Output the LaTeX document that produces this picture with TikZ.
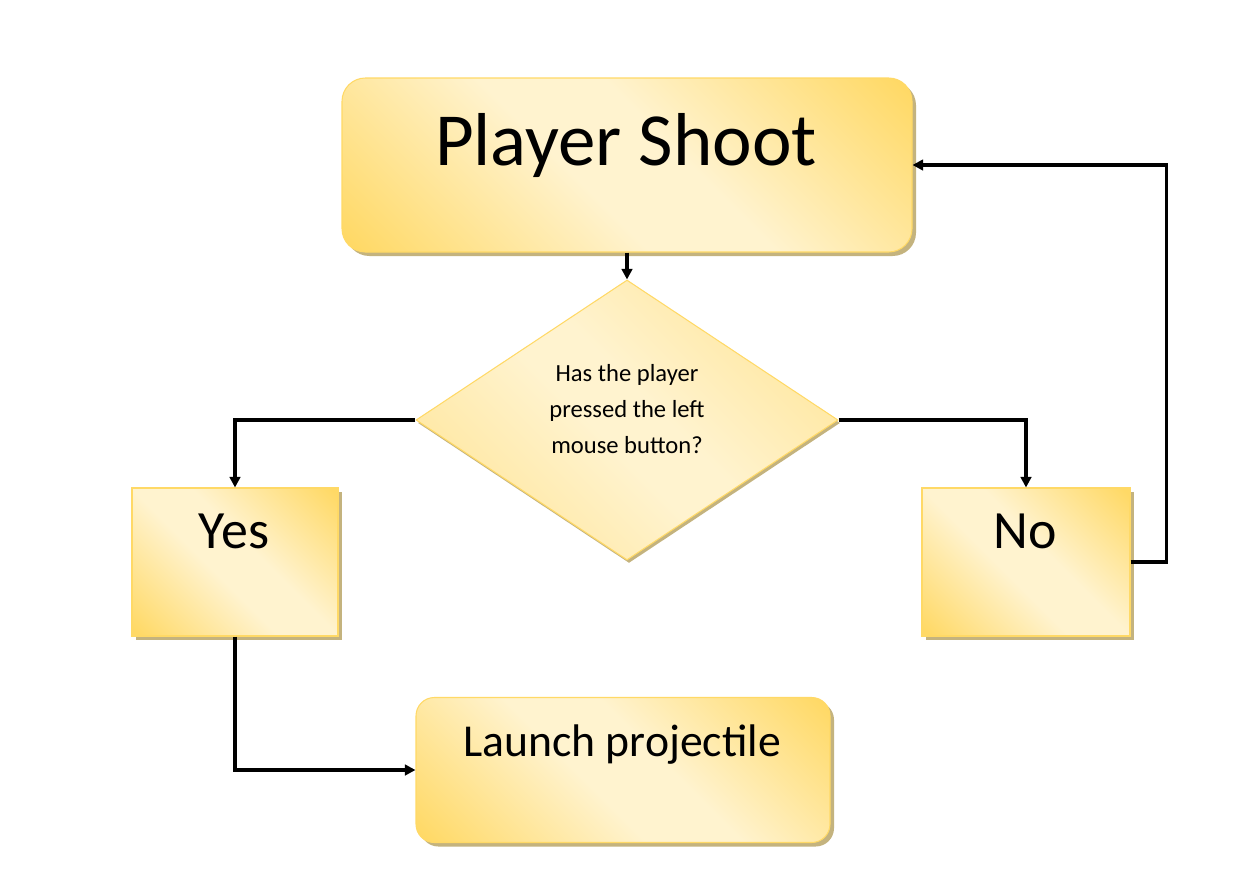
\documentclass[tikz,border=0pt]{standalone}
\usepackage{fontspec}
\setmainfont{Carlito}
\usetikzlibrary{shapes.geometric,shadows,arrows.meta}
\definecolor{goldc}{HTML}{FFD966}
\definecolor{lightc}{HTML}{FFF3CF}
\definecolor{edgec}{HTML}{FFD966}
\definecolor{shadc}{HTML}{C4B37E}
\colorlet{midgold}{goldc!55!lightc}
\pgfdeclarehorizontalshading{goldband}{100bp}{color(0bp)=(goldc); color(16bp)=(goldc); color(44bp)=(lightc); color(56bp)=(lightc); color(84bp)=(goldc); color(100bp)=(goldc)}
\pgfdeclarehorizontalshading{softband}{100bp}{color(0bp)=(midgold); color(20bp)=(midgold); color(46bp)=(lightc); color(54bp)=(lightc); color(80bp)=(midgold); color(100bp)=(midgold)}
\tikzset{
  box/.style={rectangle, draw=edgec, line width=0.9pt, shading=goldband, shading angle=45,
    drop shadow={shadow xshift=0.12cm, shadow yshift=-0.12cm, fill=shadc, opacity=1}, inner sep=0pt},
  rbox/.style={box, rounded corners=0.7cm},
  decision/.style={diamond, draw=edgec, line width=0.9pt, shading=softband, shading angle=45,
    drop shadow={shadow xshift=0.06cm, shadow yshift=-0.09cm, fill=shadc, opacity=1}, inner sep=0pt},
  conn/.style={line width=2.6pt, -{Triangle[length=9pt,width=9pt]}},
  lbl/.style={inner sep=0pt, text=black}
}
\begin{document}
\begin{tikzpicture}[x=0.03cm, y=-0.03cm]
\useasboundingbox (0,0) rectangle (1240,894);
\fill[white] (0,0) rectangle (1240,894);
% shapes
\node[rbox, minimum width=570*0.03cm, minimum height=174*0.03cm] (ps) at (627,165) {};
\node[decision, minimum width=422*0.03cm, minimum height=280*0.03cm] (dia) at (627,420) {};
\node[box, minimum width=206*0.03cm, minimum height=148*0.03cm] (yes) at (235,562) {};
\node[box, minimum width=208*0.03cm, minimum height=148*0.03cm] (no) at (1026,562) {};
\node[rbox, rounded corners=0.55cm, minimum width=414*0.03cm, minimum height=145*0.03cm] (launch) at (623,770) {};
% texts
\node[lbl, anchor=base, font=\fontsize{64}{72}\selectfont] (pst) at (626,165) {Player Shoot};
\node[lbl, align=center, font=\fontsize{21}{31}\selectfont] (diat) at (627,409) {Has the player\\pressed the left\\mouse button?};
\node[lbl, anchor=base, font=\fontsize{46}{52}\selectfont] (yest) at (234,548) {Yes};
\node[lbl, anchor=base, font=\fontsize{46}{52}\selectfont] (not) at (1025,548) {No};
\node[lbl, anchor=base, font=\fontsize{39}{44}\selectfont] (lt) at (622,756) {Launch projectile};
% connectors
\draw[conn] (ps.south) -- (dia.north);
\draw[conn] (dia.west) -| (yes.north);
\draw[conn] (dia.east) -| (no.north);
\draw[conn] (yes.south) |- (launch.west);
\draw[conn] (no.east) -- ++(36,0) |- (ps.east);
\end{tikzpicture}
\end{document}
